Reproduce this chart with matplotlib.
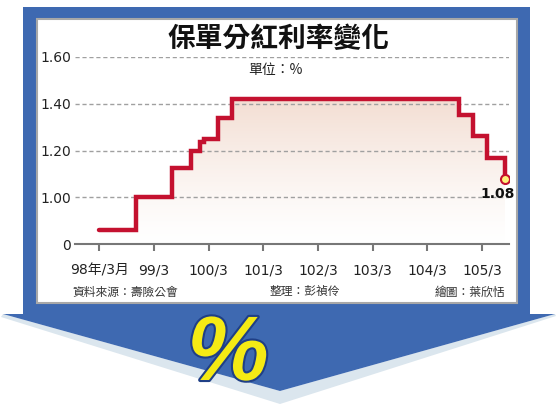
import matplotlib
matplotlib.use('Agg')
import matplotlib.pyplot as plt
import numpy as np
from matplotlib.patches import Polygon, Rectangle
import matplotlib.patheffects as pe

plt.rcParams['font.family'] = ['DejaVu Sans', 'Noto Sans CJK TC']

# ---- data ----
dates = ['98/03', '98/11', '99/07', '99/11', '100/01', '100/02', '100/05',
         '100/08', '104/10', '105/01', '105/04', '105/08']
rates = [0.86, 1.00, 1.125, 1.20, 1.235, 1.25, 1.34, 1.42, 1.35, 1.26, 1.17, 1.08]
xtick_years = [98, 99, 100, 101, 102, 103, 104, 105]
xtick_labels = ['98年/3月', '99/3', '100/3', '101/3', '102/3', '103/3', '104/3', '105/3']
ytick_values = [0.8, 1.0, 1.2, 1.4, 1.6]   # broken axis: bottom labelled 0
ytick_labels = ['0', '1.00', '1.20', '1.40', '1.60']
title = '保單分紅利率變化'
unit = '單位：%'
source = '資料來源：壽險公會'
editor = '整理：彭禎伶'
artist = '繪圖：葉欣恬'


def to_num(s):
    y, m = s.split('/')
    return int(y) + (int(m) - 1) / 12


x = np.array([to_num(d) for d in dates])
y = np.array(rates)
xticks = [yr + 2 / 12 for yr in xtick_years]

W, H = 556, 413
fig = plt.figure(figsize=(W / 100, H / 100), dpi=100)
fig.patch.set_facecolor('white')

# ---- background decoration ----
bg = fig.add_axes([0, 0, 1, 1])
bg.set_xlim(0, W)
bg.set_ylim(H, 0)
bg.axis('off')

shadow = Polygon([(1, 317), (280, 404), (556, 316), (555, 314), (280, 391), (3, 314)],
                 closed=True, facecolor='#dbe6ee', edgecolor='none')
bg.add_patch(shadow)
arrow = Polygon([(23, 7), (530, 7), (530, 314), (555, 314), (280, 391), (3, 314), (23, 314)],
                closed=True, facecolor='#3e69b1', edgecolor='none')
bg.add_patch(arrow)
panel = Rectangle((37, 19), 480, 284, facecolor='white', edgecolor='#a8a8a8', lw=1.5)
bg.add_patch(panel)

bg.text(278, 39, title, ha='center', va='center', fontsize=20, fontweight='heavy',
        family=['Noto Sans CJK TC'], color='#111111')
bg.text(275, 70, unit, ha='center', va='center', fontsize=10,
        family=['Noto Sans CJK TC', 'DejaVu Sans'], color='#222222')
bg.text(72, 292, source, ha='left', va='center', fontsize=8.5,
        family=['Noto Sans CJK TC'], color='#333333')
bg.text(305, 292, editor, ha='center', va='center', fontsize=8.5,
        family=['Noto Sans CJK TC'], color='#333333')
bg.text(505, 292, artist, ha='right', va='center', fontsize=8.5,
        family=['Noto Sans CJK TC'], color='#333333')

pct = bg.text(228, 356, '%', ha='center', va='center', fontsize=66, fontweight='bold',
              style='italic', family=['Liberation Sans'], color='#f5ea14')
pct.set_path_effects([pe.Stroke(linewidth=3, foreground='#1f3f86'), pe.Normal()])

# ---- main axes ----
left, right, top, bottom = 75, 509, 57, 244
ax = fig.add_axes([left / W, (H - bottom) / H, (right - left) / W, (bottom - top) / H])
ax.set_facecolor('none')
ax.set_xlim(97.72, 105.66)
ax.set_ylim(0.8, 1.6)

# step path
sx = [x[0]]
sy = [y[0]]
for i in range(1, len(x)):
    sx += [x[i], x[i]]
    sy += [y[i - 1], y[i]]
sx = np.array(sx)
sy = np.array(sy)

# gradient fill under the line
poly_xy = np.column_stack([np.r_[sx, sx[-1], sx[0]], np.r_[sy, 0.8, 0.8]])
clip = Polygon(poly_xy, closed=True, transform=ax.transData, facecolor='none', edgecolor='none')
ax.add_patch(clip)
grad = np.linspace(0, 1, 256).reshape(-1, 1)
top_c = np.array([243, 222, 211]) / 255
bot_c = np.array([255, 255, 255]) / 255
t = np.clip(grad, 0, 1) ** 1.3
img = bot_c + (top_c - bot_c) * t
img = np.repeat(img[:, None, :], 2, axis=1)
im = ax.imshow(img, extent=[97.72, 105.66, 0.8, 1.42], origin='lower', aspect='auto', zorder=1)
im.set_clip_path(clip)

# grid (drawn over the fill, like the reference)
for v in ytick_values[1:]:
    ax.axhline(v, color='#a0a0a0', lw=1, ls=(0, (3, 2)), zorder=2)

ax.plot(x, y, drawstyle='steps-post', color='#c4112f', lw=3.2, solid_joinstyle='miter',
        solid_capstyle='round', zorder=3)
ax.plot([x[-1]], [y[-1]], 'o', ms=6.5, mfc='#fff27a', mec='#c4112f', mew=1.5, zorder=4)
ax.annotate(f'{rates[-1]:.2f}', xy=(x[-1], y[-1]), xytext=(-7, -15), textcoords='offset pixels',
            ha='center', va='center', fontsize=10, fontweight='bold', color='#111111')

for s in ['top', 'right', 'left']:
    ax.spines[s].set_visible(False)
ax.spines['bottom'].set_color('#777777')
ax.spines['bottom'].set_linewidth(1.5)

ax.set_xticks(xticks)
ax.set_xticklabels(xtick_labels, fontsize=10, color='#222222')
ax.tick_params(axis='x', direction='out', length=5, width=1.5, color='#777777', pad=9)
ax.set_yticks(ytick_values)
ax.set_yticklabels(ytick_labels, fontsize=10, color='#222222')
ax.tick_params(axis='y', length=0, pad=3)
for lab in ax.get_xticklabels():
    lab.set_family(['DejaVu Sans', 'Noto Sans CJK TC'])

fig.savefig('out.png', dpi=100, facecolor='white')
